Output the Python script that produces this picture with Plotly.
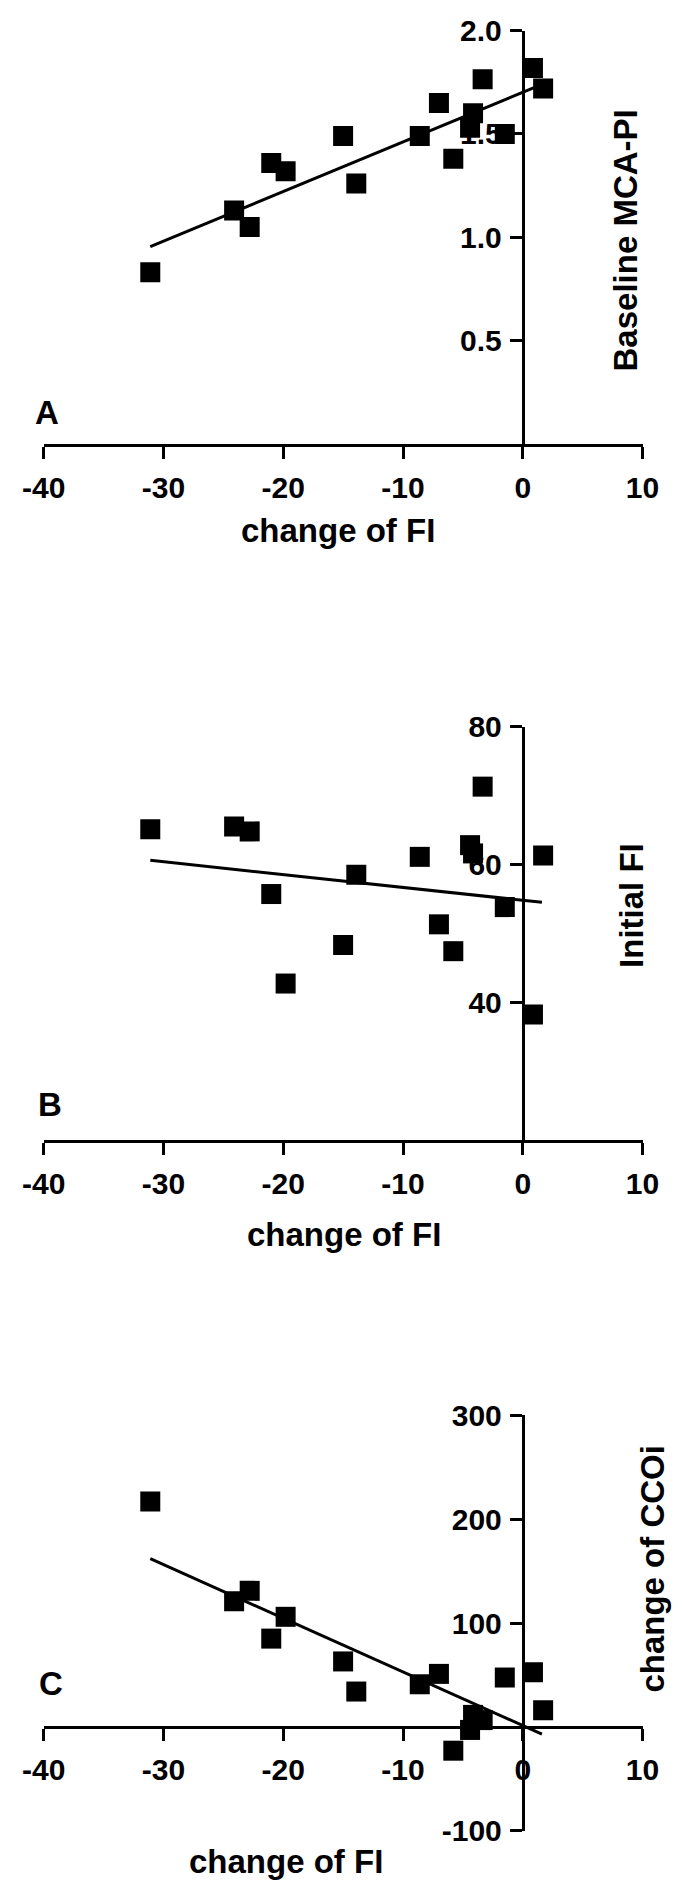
import plotly.graph_objects as go

# ---- data ----
change_fi = [-31.1, -24.1, -22.8, -21.0, -19.8, -15.0, -13.9, -8.6, -7.0, -5.8,
             -4.4, -4.15, -3.35, -1.5, 0.85, 1.7]
baseline_mca_pi = [0.83, 1.13, 1.05, 1.36, 1.32, 1.49, 1.26, 1.49, 1.65, 1.38,
                   1.53, 1.60, 1.765, 1.50, 1.82, 1.72]
initial_fi = [65.1, 65.5, 64.8, 55.7, 42.7, 48.3, 58.5, 61.1, 51.3, 47.4,
              62.8, 61.6, 71.3, 53.8, 38.2, 61.3]
change_ccoi = [217, 121, 131, 85, 106, 63, 34, 41, 51, -23,
               -3, 11.5, 6.5, 47.5, 52.5, 16]

# regression line end points
fit_x = [-31.1, 1.6]
fit_a = [0.955, 1.74]
fit_b = [60.6, 54.5]
fit_c = [162, -7]

x_ticks = [-40, -30, -20, -10, 0, 10]
x_ticktext = ["-40", "-30", "-20", "-10", "0", "10"]
a_ticks = [0.5, 1.0, 1.5, 2.0]
a_ticktext = ["0.5", "1.0", "1.5", "2.0"]
b_ticks = [40, 60, 80]
b_ticktext = ["40", "60", "80"]
c_ticks = [-100, 100, 200, 300]
c_ticktext = ["-100", "100", "200", "300"]

W, H = 685, 1897
FONT = "Liberation Sans, Arial, sans-serif"

def fy(px):
    return 1 - px / H

xdom = [23 / W, 658 / W]
ydomA = [fy(434.5), fy(14)]
ydomB = [fy(1143.3), fy(722.7)]
ydomC = [fy(1846.7), fy(1424)]
ypos = xdom[0] + 0.8 * (xdom[1] - xdom[0])

fig = go.Figure()
panels = [
    ("x", "y", baseline_mca_pi, fit_a),
    ("x2", "y2", initial_fi, fit_b),
    ("x3", "y3", change_ccoi, fit_c),
]
for xa, ya, yv, fv in panels:
    fig.add_trace(go.Scatter(x=fit_x, y=fv, mode="lines", xaxis=xa, yaxis=ya,
                             line=dict(color="black", width=3), showlegend=False,
                             hoverinfo="skip"))
    fig.add_trace(go.Scatter(x=change_fi, y=yv, mode="markers", xaxis=xa, yaxis=ya,
                             marker=dict(symbol="square", size=20, color="black",
                                         line=dict(width=0)),
                             showlegend=False))

tickfont = dict(family=FONT, size=30, color="black", weight="bold")

def xaxis(**kw):
    d = dict(range=[-40, 10], domain=xdom, tickvals=x_ticks, ticktext=x_ticktext,
             ticks="outside", ticklen=12, tickwidth=3, tickcolor="black",
             showline=True, linewidth=3, linecolor="black", showgrid=False,
             zeroline=False, tickfont=tickfont, layer="below traces",
             ticklabelstandoff=3, ticklabeloverflow="allow", fixedrange=True)
    d.update(kw)
    return d

def yaxis(**kw):
    d = dict(ticks="outside", ticklen=12, tickwidth=3, tickcolor="black",
             showline=True, linewidth=3, linecolor="black", showgrid=False,
             zeroline=False, tickfont=tickfont, layer="below traces",
             anchor="free", position=ypos, side="left", ticklabelstandoff=2,
             ticklabeloverflow="allow", fixedrange=True)
    d.update(kw)
    return d

fig.update_layout(
    width=W, height=H,
    margin=dict(l=0, r=0, t=0, b=0),
    paper_bgcolor="white", plot_bgcolor="rgba(0,0,0,0)",
    hovermode=False,
    xaxis=xaxis(anchor="y"),
    xaxis2=xaxis(anchor="y2"),
    xaxis3=xaxis(anchor="free",
                 position=ydomC[0] + 0.25 * (ydomC[1] - ydomC[0])),
    yaxis=yaxis(range=[0, 2.0], domain=ydomA, tickvals=a_ticks, ticktext=a_ticktext),
    yaxis2=yaxis(range=[20, 80], domain=ydomB, tickvals=b_ticks, ticktext=b_ticktext),
    yaxis3=yaxis(range=[-100, 300], domain=ydomC, tickvals=c_ticks, ticktext=c_ticktext),
)

titlefont = dict(family=FONT, size=33, color="black", weight="bold")
annos = [
    ("A", 27, 403, 0),
    ("B", 30, 1107, 0),
    ("C", 31, 1697, 0),
    ("change of FI", 335, 523, 0),
    ("change of FI", 341, 1240, 0),
    ("change of FI", 280, 1878, 0),
    ("Baseline MCA-PI", 640, 228, -90),
    ("Initial FI", 647, 905, -90),
    ("change of CCOi", 669, 1580, -90),
]
for text, px, py, ang in annos:
    fig.add_annotation(text=text, x=px / W, y=fy(py), xref="paper", yref="paper",
                       showarrow=False, textangle=ang, font=titlefont,
                       xanchor="center", yanchor="middle")

fig.write_html("out.html",
               config={"displayModeBar": False, "staticPlot": True},
               post_script="document.body.style.margin='0';")
